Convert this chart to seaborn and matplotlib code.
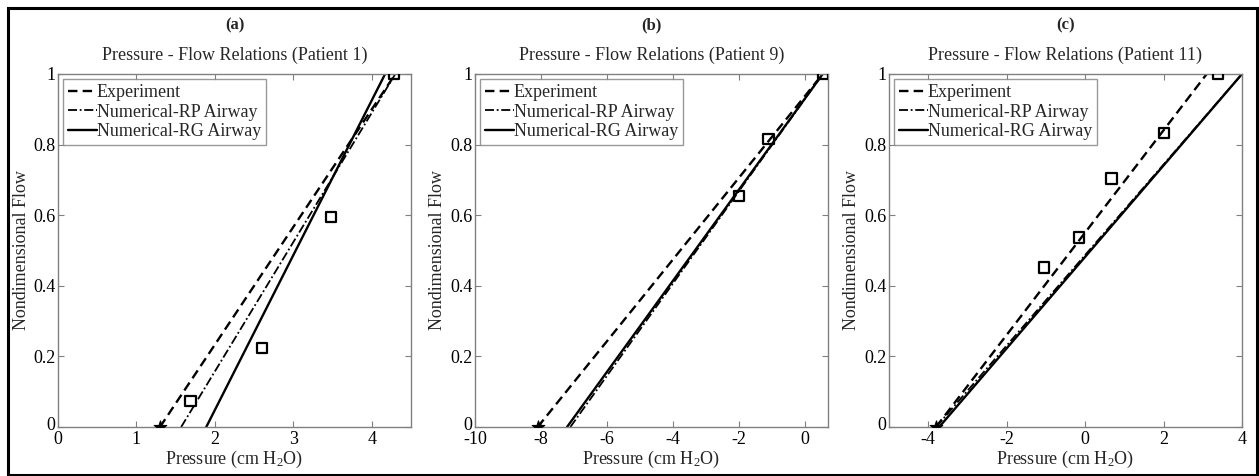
import matplotlib
matplotlib.use("Agg")
import matplotlib.pyplot as plt
import matplotlib.transforms as mtransforms
import seaborn as sns
import pandas as pd
from matplotlib.patches import Rectangle

# ---------------- data ----------------
panel_tags = ["(a)", "(b)", "(c)"]
patients = ["Patient 1", "Patient 9", "Patient 11"]

# experimental points (squares)
a_pts_x = [1.69, 2.60, 3.48, 4.28]
a_pts_y = [0.074, 0.223, 0.594, 1.0]
b_pts_x = [-2.0, -1.1, 0.54]
b_pts_y = [0.655, 0.815, 1.0]
c_pts_x = [-1.05, -0.15, 0.67, 2.02, 3.38]
c_pts_y = [0.452, 0.537, 0.704, 0.832, 1.0]

# zero-flow intercept (star)
a_star_x = [1.30]
b_star_x = [-8.10]
c_star_x = [-3.80]

# fitted lines: x at flow 0 and flow 1
line_y = [0.0, 1.0]
a_exp_x = [1.30, 4.30]
a_rp_x = [1.57, 4.30]
a_rg_x = [1.89, 4.17]
b_exp_x = [-8.10, 0.54]
b_rp_x = [-7.11, 0.54]
b_rg_x = [-7.21, 0.54]
c_exp_x = [-3.80, 3.10]
c_rp_x = [-3.80, 4.00]
c_rg_x = [-3.72, 4.00]

xlims = [(0, 4.5), (-10, 0.7), (-5, 4)]
xticks = [[0, 1, 2, 3, 4], [-10, -8, -6, -4, -2, 0], [-4, -2, 0, 2, 4]]
yticks = [0, 0.2, 0.4, 0.6, 0.8, 1]
ytick_labels = ["0", "0.2", "0.4", "0.6", "0.8", "1"]

series_names = ["Experiment", "Numerical-RP Airway", "Numerical-RG Airway"]

panels = [
    (a_pts_x, a_pts_y, a_star_x, [a_exp_x, a_rp_x, a_rg_x]),
    (b_pts_x, b_pts_y, b_star_x, [b_exp_x, b_rp_x, b_rg_x]),
    (c_pts_x, c_pts_y, c_star_x, [c_exp_x, c_rp_x, c_rg_x]),
]

# ---------------- style ----------------
sns.set_theme(style="white")
plt.rcParams["font.family"] = ["Liberation Serif", "DejaVu Serif"]
plt.rcParams["mathtext.fontset"] = "custom"
plt.rcParams["mathtext.rm"] = "Liberation Serif"
plt.rcParams["mathtext.it"] = "Liberation Serif:italic"

W, H = 1259, 476
fig = plt.figure(figsize=(W / 100, H / 100), dpi=100)
fig.patch.set_facecolor("white")

lefts = [58, 475, 889]
ax_w = 353
ax_top, ax_bot = 74, 427
ylabel_x = [22, 437, 852]

styles = [dict(ls=(0, (4, 2.2)), lw=1.7),
          dict(ls=(0, (5, 1.5, 1, 1.5)), lw=1.3),
          dict(ls="-", lw=1.7)]

grey = "#808080"

for i, (px, py, sx, lines) in enumerate(panels):
    ax = fig.add_axes([lefts[i] / W, 1 - ax_bot / H, ax_w / W, (ax_bot - ax_top) / H])
    for name, lx, st in zip(series_names, lines, styles):
        df = pd.DataFrame({"x": lx, "y": line_y})
        sns.lineplot(data=df, x="x", y="y", ax=ax, color="black", sort=False,
                     linestyle=st["ls"], linewidth=st["lw"], label=name)
    dfp = pd.DataFrame({"x": px, "y": py})
    sns.scatterplot(data=dfp, x="x", y="y", ax=ax, marker="s", s=55,
                    facecolor="none", edgecolor="black", linewidth=1.6, zorder=5)
    dfs = pd.DataFrame({"x": sx, "y": [0.0] * len(sx)})
    sns.scatterplot(data=dfs, x="x", y="y", ax=ax, marker="*", s=90,
                    color="black", edgecolor="black", linewidth=0.8, zorder=6)

    ax.set_xlim(*xlims[i])
    ax.set_ylim(0, 1)
    ax.set_xticks(xticks[i])
    ax.set_xticklabels([str(t) for t in xticks[i]])
    ax.set_yticks(yticks)
    ax.set_yticklabels(ytick_labels)
    ax.tick_params(direction="in", length=4, width=0.8, color=grey,
                   labelsize=13, labelcolor="black", top=True, right=True,
                   bottom=True, left=True)
    ax.tick_params(axis="x", pad=3)
    ax.tick_params(axis="y", pad=2)
    # nudge the y "0" label up a little, as in the reference
    lab0 = ax.get_yticklabels()[0]
    lab0.set_transform(lab0.get_transform() +
                       mtransforms.ScaledTranslation(0, 4 / 100, fig.dpi_scale_trans))
    for sp in ax.spines.values():
        sp.set_color(grey)
        sp.set_linewidth(1.0)
    ax.set_xlabel("")
    ax.set_ylabel("")

    leg = ax.legend(loc="upper left", fontsize=13, frameon=True, fancybox=False,
                    handlelength=1.6, handletextpad=0.0, borderpad=0.25,
                    labelspacing=0.15, borderaxespad=0.3)
    leg.get_frame().set_edgecolor(grey)
    leg.get_frame().set_linewidth(1.0)

    cx = (lefts[i] + ax_w / 2) / W
    fig.text(cx, 1 - 25 / H, panel_tags[i], ha="center", va="center",
             fontsize=12, fontweight="bold")
    fig.text(cx, 1 - 55 / H, f"Pressure - Flow Relations ({patients[i]})",
             ha="center", va="center", fontsize=13)
    fig.text(cx, 1 - 459 / H, r"Pressure (cm H$_2$O)", ha="center", va="center",
             fontsize=13)
    fig.text(ylabel_x[i] / W, 1 - (ax_top + ax_bot) / 2 / H, "Nondimensional Flow",
             ha="center", va="center", rotation=90, fontsize=13)

# outer frame
fig.patches.append(Rectangle((8 / W, 1 / H), (W - 10) / W, (H - 9) / H,
                             transform=fig.transFigure, fill=False,
                             edgecolor="black", linewidth=2.2, zorder=10))

fig.savefig("out.png", dpi=100, facecolor="white")
